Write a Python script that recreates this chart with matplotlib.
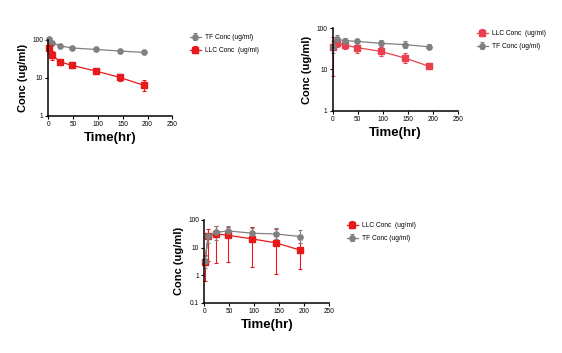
import matplotlib
matplotlib.use("Agg")
import matplotlib.pyplot as plt
import numpy as np

plt.rcParams['font.family'] = ['Liberation Sans', 'DejaVu Sans']

# sampling times (hr)
t = [0.5, 8, 24, 48, 96, 144, 192]
t3 = [1, 8, 24, 48, 96, 144, 192]

# panel 1
tf1 = [104, 82, 68, 60, 55, 50, 46]
tf1_lo = [94, 75, 61, 56, 51, 45, 42]
tf1_hi = [114, 90, 75, 64, 59, 55, 50]
llc1 = [60, 39, 26, 21, 15, 10.2, 6.4]
llc1_lo = [44, 29, 21, 17.5, 12.7, 8.1, 4.6]
llc1_hi = [81, 50, 31, 25.5, 17.5, 12.2, 8.6]

# panel 2
llc2 = [35, 45, 39, 34, 27.5, 19, 12]
llc2_lo = [7, 35, 32, 24.5, 21, 14.5, 10.4]
llc2_hi = [60, 55, 45, 45, 36, 25, 14]
tf2 = [35, 55, 50, 48, 43, 40, 35.5]
tf2_lo = [25, 45, 44, 43, 37, 33, 31]
tf2_hi = [50, 68, 57, 54, 51, 50, 42]

# panel 3
llc3 = [2.9, 26, 31, 27.8, 20.5, 14.7, 8]
llc3_lo = [0.63, 3.3, 2.7, 2.9, 2.0, 1.07, 1.65]
llc3_hi = [5.2, 47, 59, 58, 54, 48, 14]
tf3 = [3.1, 27, 36, 40, 33, 31, 25]
tf3_lo = [1.8, 14, 19, 27, 20, 20, 15]
tf3_hi = [4.8, 35, 60, 62, 53, 50, 42]

xticks = [0, 50, 100, 150, 200, 250]
tf_label = "TF Conc (ug/ml)"
llc_label = "LLC Conc  (ug/ml)"

W, H = 562, 353
fig = plt.figure(figsize=(W / 100, H / 100), dpi=100)


def px_axes(x0, x1, ytop, ybot):
    return fig.add_axes([x0 / W, 1 - ybot / H, (x1 - x0) / W, (ybot - ytop) / H])


def series(ax, x, y, lo, hi, color, marker, label):
    y = np.array(y)
    err = [y - np.array(lo), np.array(hi) - y]
    ax.errorbar(x, y, yerr=err, color=color, marker=marker, markersize=3.8,
                lw=0.9, elinewidth=0.8, capsize=1.6, capthick=0.8,
                label=label, clip_on=False)


def style(ax, ylo, yticks):
    ax.set_yscale('log')
    ax.set_xlim(0, 250)
    ax.set_ylim(ylo, 100)
    ax.set_xticks(xticks)
    ax.set_xticklabels([str(v) for v in xticks])
    ax.set_yticks(yticks)
    ax.set_yticklabels([('%g' % v) for v in yticks])
    ax.yaxis.set_minor_locator(matplotlib.ticker.NullLocator())
    for s in ['top', 'right']:
        ax.spines[s].set_visible(False)
    for s in ['left', 'bottom']:
        ax.spines[s].set_linewidth(1.1)
    ax.tick_params(labelsize=4.7, length=2.2, width=0.8, pad=1.5)
    ax.set_xlabel("Time(hr)", fontsize=9.5, fontweight='bold', labelpad=3)
    ax.set_ylabel("Conc (ug/ml)", fontsize=8, fontweight='bold', labelpad=3)


red = '#e8191b'
red2 = '#e8404f'
gray = '#808080'

ax1 = px_axes(48.3, 172.3, 39.5, 116)
series(ax1, t, tf1, tf1_lo, tf1_hi, gray, 'o', tf_label)
series(ax1, t, llc1, llc1_lo, llc1_hi, red, 's', llc_label)
style(ax1, 1, [1, 10, 100])

ax2 = px_axes(332.5, 457.7, 28.2, 110.7)
series(ax2, t, llc2, llc2_lo, llc2_hi, red2, 's', llc_label)
series(ax2, t, tf2, tf2_lo, tf2_hi, gray, 'o', tf_label)
style(ax2, 1, [1, 10, 100])

ax3 = px_axes(204.3, 329.3, 220, 302.5)
series(ax3, t3, llc3, llc3_lo, llc3_hi, red, 's', llc_label)
series(ax3, t3, tf3, tf3_lo, tf3_hi, gray, 'o', tf_label)
style(ax3, 0.1, [0.1, 1, 10, 100])


def leg(ax, x, y):
    h, l = ax.get_legend_handles_labels()
    fig.legend(h, l, loc='upper left', bbox_to_anchor=(x / W, 1 - y / H),
               frameon=False, fontsize=4.8, handlelength=1.6, handletextpad=0.6,
               labelspacing=0.9, borderpad=0, borderaxespad=0)


leg(ax1, 190, 34)
leg(ax2, 477, 30)
leg(ax3, 347, 222)

fig.savefig("out.png", dpi=100)
